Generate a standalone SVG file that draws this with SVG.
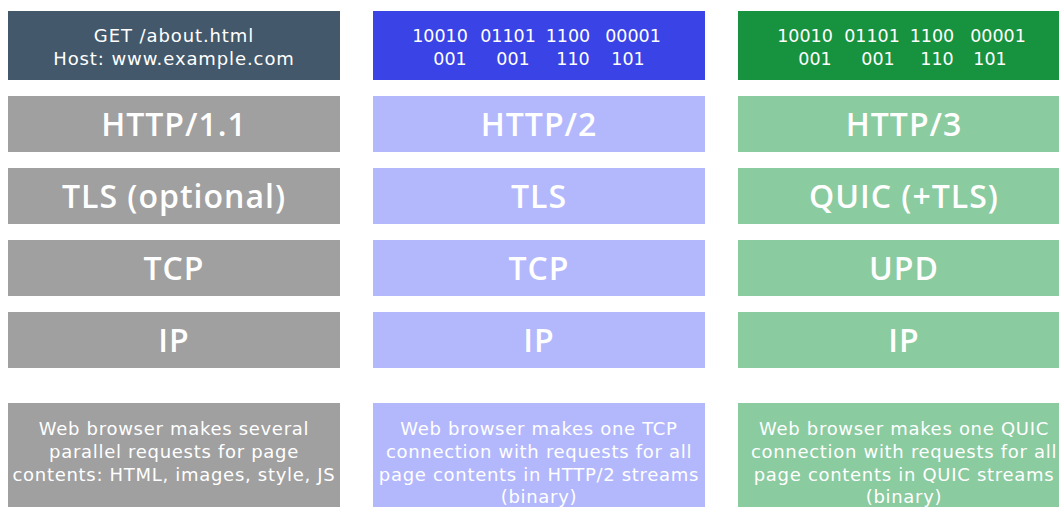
<svg xmlns="http://www.w3.org/2000/svg" width="1059" height="507" viewBox="0 0 1059 507">
<style>
.t{font-family:"DejaVu Sans","Open Sans",sans-serif;fill:#ffffff;text-anchor:middle}
.top{font-size:18px;letter-spacing:0.9px}
.bin{font-size:17.5px}
.lay{font-family:"Open Sans","Noto Sans",sans-serif;font-size:32px;font-weight:600;letter-spacing:1px}
.desc{font-size:18px;letter-spacing:0.7px}
.g{fill:#a0a0a0}.b{fill:#b3b8fc}.gr{fill:#8acb9f}
</style>
<rect width="1059" height="507" fill="#ffffff"/>
<g id="col1-top"><rect x="8" y="11" width="332" height="69" fill="#43596b"/>
<text class="t top" x="174" y="42">GET /about.html</text>
<text class="t top" x="174" y="65">Host: www.example.com</text></g>
<g id="col2-top"><rect x="373" y="11" width="332" height="69" fill="#3a43e6"/>
<g class="t bin"><text x="440" y="42">10010</text><text x="508" y="42">01101</text><text x="568" y="42">1100</text><text x="633" y="42">00001</text>
<text x="450" y="65">001</text><text x="513" y="65">001</text><text x="573" y="65">110</text><text x="628" y="65">101</text></g></g>
<g id="col3-top"><rect x="738" y="11" width="332" height="69" fill="#17923e"/>
<g class="t bin"><text x="805" y="42">10010</text><text x="872" y="42">01101</text><text x="932" y="42">1100</text><text x="998" y="42">00001</text>
<text x="815" y="65">001</text><text x="878" y="65">001</text><text x="937" y="65">110</text><text x="990" y="65">101</text></g></g>
<g id="http11"><rect class="g" x="8" y="96" width="332" height="56"/><text class="t lay" x="174" y="136">HTTP/1.1</text></g>
<g id="tls1"><rect class="g" x="8" y="168" width="332" height="56"/><text class="t lay" x="174" y="208">TLS (optional)</text></g>
<g id="tcp1"><rect class="g" x="8" y="240" width="332" height="56"/><text class="t lay" x="174" y="280">TCP</text></g>
<g id="ip1"><rect class="g" x="8" y="312" width="332" height="56"/><text class="t lay" x="174" y="352">IP</text></g>
<g id="http2"><rect class="b" x="373" y="96" width="332" height="56"/><text class="t lay" x="539" y="136">HTTP/2</text></g>
<g id="tls2"><rect class="b" x="373" y="168" width="332" height="56"/><text class="t lay" x="539" y="208">TLS</text></g>
<g id="tcp2"><rect class="b" x="373" y="240" width="332" height="56"/><text class="t lay" x="539" y="280">TCP</text></g>
<g id="ip2"><rect class="b" x="373" y="312" width="332" height="56"/><text class="t lay" x="539" y="352">IP</text></g>
<g id="http3"><rect class="gr" x="738" y="96" width="332" height="56"/><text class="t lay" x="904" y="136">HTTP/3</text></g>
<g id="quic"><rect class="gr" x="738" y="168" width="332" height="56"/><text class="t lay" x="904" y="208">QUIC (+TLS)</text></g>
<g id="udp"><rect class="gr" x="738" y="240" width="332" height="56"/><text class="t lay" x="904" y="280">UPD</text></g>
<g id="ip3"><rect class="gr" x="738" y="312" width="332" height="56"/><text class="t lay" x="904" y="352">IP</text></g>
<g id="desc1"><rect class="g" x="8" y="403" width="332" height="110"/>
<g class="t desc"><text x="174" y="435">Web browser makes several</text><text x="174" y="458">parallel requests for page</text><text x="174" y="481">contents: HTML, images, style, JS</text></g></g>
<g id="desc2"><rect class="b" x="373" y="403" width="332" height="110"/>
<g class="t desc"><text x="539" y="435">Web browser makes one TCP</text><text x="539" y="458">connection with requests for all</text><text x="539" y="481">page contents in HTTP/2 streams</text><text x="539" y="503">(binary)</text></g></g>
<g id="desc3"><rect class="gr" x="738" y="403" width="332" height="110"/>
<g class="t desc"><text x="904" y="435">Web browser makes one QUIC</text><text x="904" y="458">connection with requests for all</text><text x="904" y="481">page contents in QUIC streams</text><text x="904" y="503">(binary)</text></g></g>
<g id="connectors"></g>
</svg>
